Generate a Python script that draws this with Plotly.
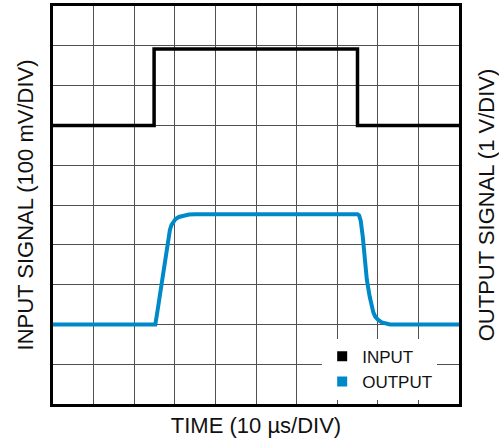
import plotly.graph_objects as go

# time in divisions (10 us/div)
input_t = [0, 2.49, 2.49, 7.5, 7.5, 10]
input_v = [7.0, 7.0, 8.92, 8.92, 7.0, 7.0]          # divisions (100 mV/div)

output_t = [0, 2.52, 2.56, 2.84, 2.88, 2.92, 2.96, 3.02, 3.1, 3.2, 3.35, 3.5, 7.5,
            7.54, 7.58, 7.63, 7.73, 7.8, 7.85, 7.89, 7.94, 8.01, 8.1, 8.2, 8.3, 10]
output_v = [2.0, 2.0, 2.25, 4.2, 4.38, 4.5, 4.58, 4.65, 4.7, 4.73, 4.76, 4.77, 4.77,
            4.74, 4.6, 4.2, 3.12, 2.7, 2.44, 2.3, 2.19, 2.11, 2.05, 2.02, 2.0, 2.0]          # divisions (1 V/div)

names = ["INPUT", "OUTPUT"]
colors = ["#000000", "#0089c9"]

fig = go.Figure()
fig.add_trace(go.Scatter(x=input_t, y=input_v, mode="lines", showlegend=False,
                         line=dict(color=colors[0], width=3.5)))
fig.add_trace(go.Scatter(x=output_t, y=output_v, mode="lines", showlegend=False,
                         yaxis="y2", line=dict(color=colors[1], width=4)))
for n, c in zip(names, colors):
    fig.add_trace(go.Scatter(x=[None], y=[None], mode="markers", name=n,
                             marker=dict(symbol="square", size=10, color=c)))

font = "Liberation Sans, Arial, sans-serif"
ax = dict(range=[0, 10], dtick=1, showticklabels=False, ticks="",
          showgrid=True, gridcolor="#505050", gridwidth=1,
          showline=True, linecolor="#000000", linewidth=3, mirror=True,
          zeroline=False, fixedrange=True, automargin=False)

fig.update_layout(
    width=499, height=444,
    margin=dict(l=53, r=40, t=6, b=40),
    paper_bgcolor="white", plot_bgcolor="white",
    font=dict(family=font, size=18, color="#111111"),
    xaxis=dict(ax, title=dict(text="TIME (10 µs/DIV)", standoff=12)),
    yaxis=dict(ax, title=dict(text="INPUT SIGNAL (100 mV/DIV)", standoff=11)),
    yaxis2=dict(range=[0, 10], overlaying="y", side="right", showticklabels=False,
                ticks="", showgrid=False, zeroline=False, showline=False, automargin=False,
                title=dict(text="OUTPUT SIGNAL (1 V/DIV)", standoff=22)),
    legend=dict(x=0.663, y=0.164, xanchor="left", yanchor="top",
                bgcolor="white", borderwidth=0, font=dict(size=17, color="#111111"),
                itemwidth=30, tracegroupgap=0),
)
fig.write_html("out.html", config={"displayModeBar": False},
               post_script="document.body.style.margin='0';")
